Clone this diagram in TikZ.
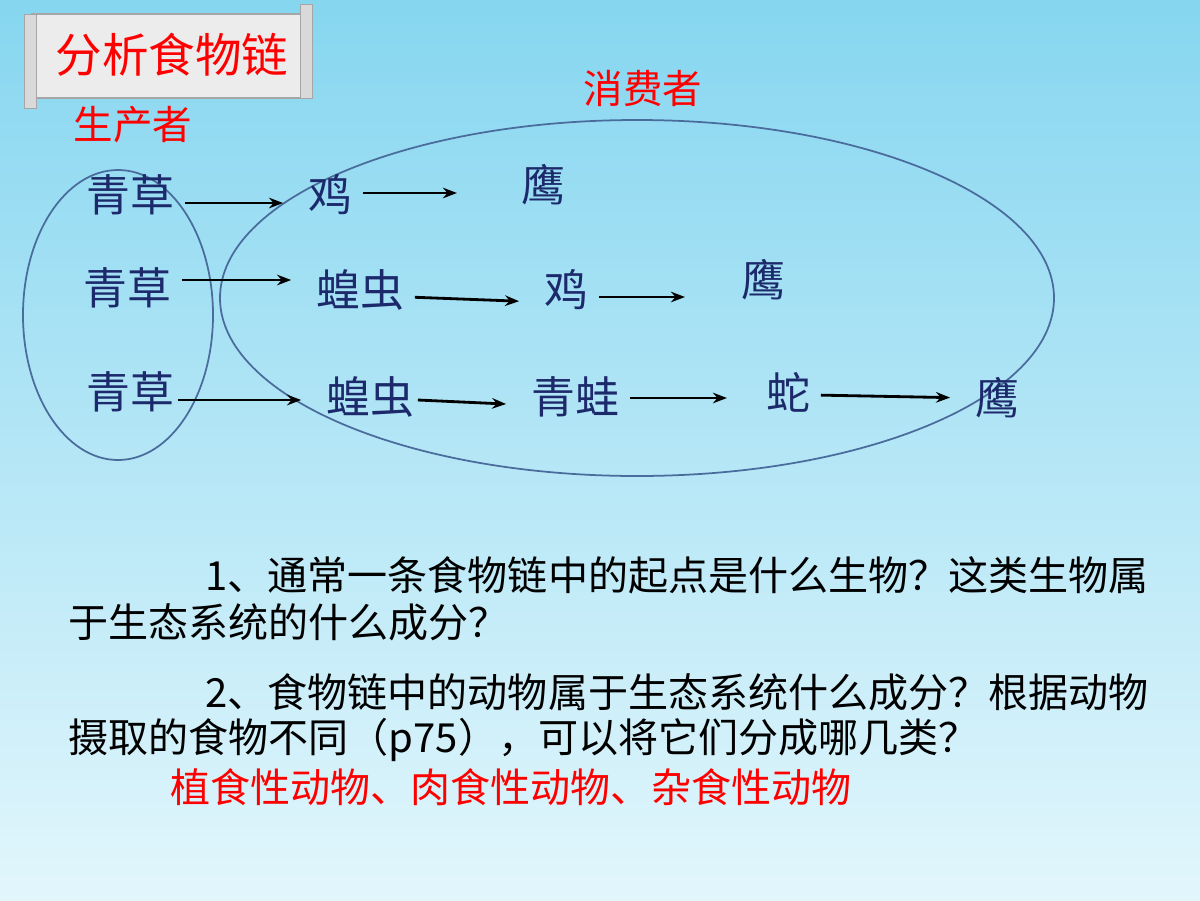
\documentclass[tikz,border=0pt]{standalone}
\usepackage{fontspec}
\setmainfont{Noto Sans CJK SC}
\usetikzlibrary{arrows.meta}
\definecolor{bgtop}{HTML}{86D6F0}
\definecolor{bgbot}{HTML}{E2F6FC}
\definecolor{nodeblue}{HTML}{1C2A6B}
\definecolor{ringblue}{HTML}{4A6C9C}
\tikzset{
  animal/.style={text=nodeblue, font=\fontsize{25}{28}\selectfont, inner sep=2pt},
  eat/.style={-{Stealth[length=8pt,width=6pt]}, line width=1.6pt, shorten >=12pt, shorten <=4pt},
  role/.style={text=red, font=\fontsize{22.5}{26}\selectfont},
  ask/.style={font=\fontsize{22.8}{26}\selectfont, anchor=west, inner sep=0pt}
}
\begin{document}
\begin{tikzpicture}[x=0.02cm, y=-0.02cm]
  \shade[top color=bgtop, bottom color=bgbot] (0,0) rectangle (1200,900);
  \useasboundingbox (0,0) rectangle (1200,900);
  % title scroll
  \draw[fill=gray!15, draw=gray!70, line width=1pt] (32,14) rectangle (308,98);
  \draw[fill=gray!30, draw=gray!70] (24,14) rectangle (36,108);
  \draw[fill=gray!30, draw=gray!70] (300,4) rectangle (312,98);
  \node[text=red, font=\fontsize{26.5}{30}\selectfont] (title) at (172,55) {分析食物链};
  % ellipses
  \draw[ringblue, line width=1pt] (118,315) ellipse [x radius=95, y radius=145];
  \draw[ringblue, line width=1pt] (637,298) ellipse [x radius=417, y radius=178];
  \node[role] (prod) at (133,125) {生产者};
  \node[role] (cons) at (643,88) {消费者};
  % row 1
  \node[animal] (g1) at (130,195) {青草};
  \node[animal] (c1) at (330,195) {鸡};
  \node[animal] (h1) at (543,185) {鹰};
  % row 2
  \node[animal] (g2) at (127,288) {青草};
  \node[animal] (l2) at (360,290) {蝗虫};
  \node[animal] (c2) at (566,290) {鸡};
  \node[animal] (h2) at (763,280) {鹰};
  % row 3
  \node[animal] (g3) at (130,392) {青草};
  \node[animal] (l3) at (370,397) {蝗虫};
  \node[animal] (f3) at (575,397) {青蛙};
  \node[animal] (s3) at (788,392) {蛇};
  \node[animal] (h3) at (997,398) {鹰};
  % arrows
  \draw[eat] (g1.east |- 0,203) -- (c1.west |- 0,203);
  \draw[eat, shorten >=4pt] (c1.east |- 0,193) -- (464,193);
  \draw[eat] (g2.east |- 0,280) -- (l2.west |- 0,280);
  \draw[eat] (l2.east |- 0,297) -- (c2.west |- 0,302);
  \draw[eat, shorten >=4pt] (c2.east |- 0,297) -- (692,297);
  \draw[eat, shorten <=0pt] (g3.east |- 0,400) -- (l3.west |- 0,400);
  \draw[eat, shorten <=0pt] (l3.east |- 0,400) -- (f3.west |- 0,405);
  \draw[eat, shorten >=4pt] (f3.east |- 0,398) -- (734,398);
  \draw[eat] (s3.east |- 0,395) -- (h3.west |- 0,398);
  % questions
  \node[ask] (q1) at (205,575) {1、通常一条食物链中的起点是什么生物？这类生物属};
  \node[ask] (q1b) at (68,622) {于生态系统的什么成分？};
  \node[ask] (q2) at (205,692) {2、食物链中的动物属于生态系统什么成分？根据动物};
  \node[ask] (q2b) at (68,740) {摄取的食物不同（p75），可以将它们分成哪几类？};
  \node[ask, text=red] (ans) at (170,787) {植食性动物、肉食性动物、杂食性动物};
\end{tikzpicture}
\end{document}
